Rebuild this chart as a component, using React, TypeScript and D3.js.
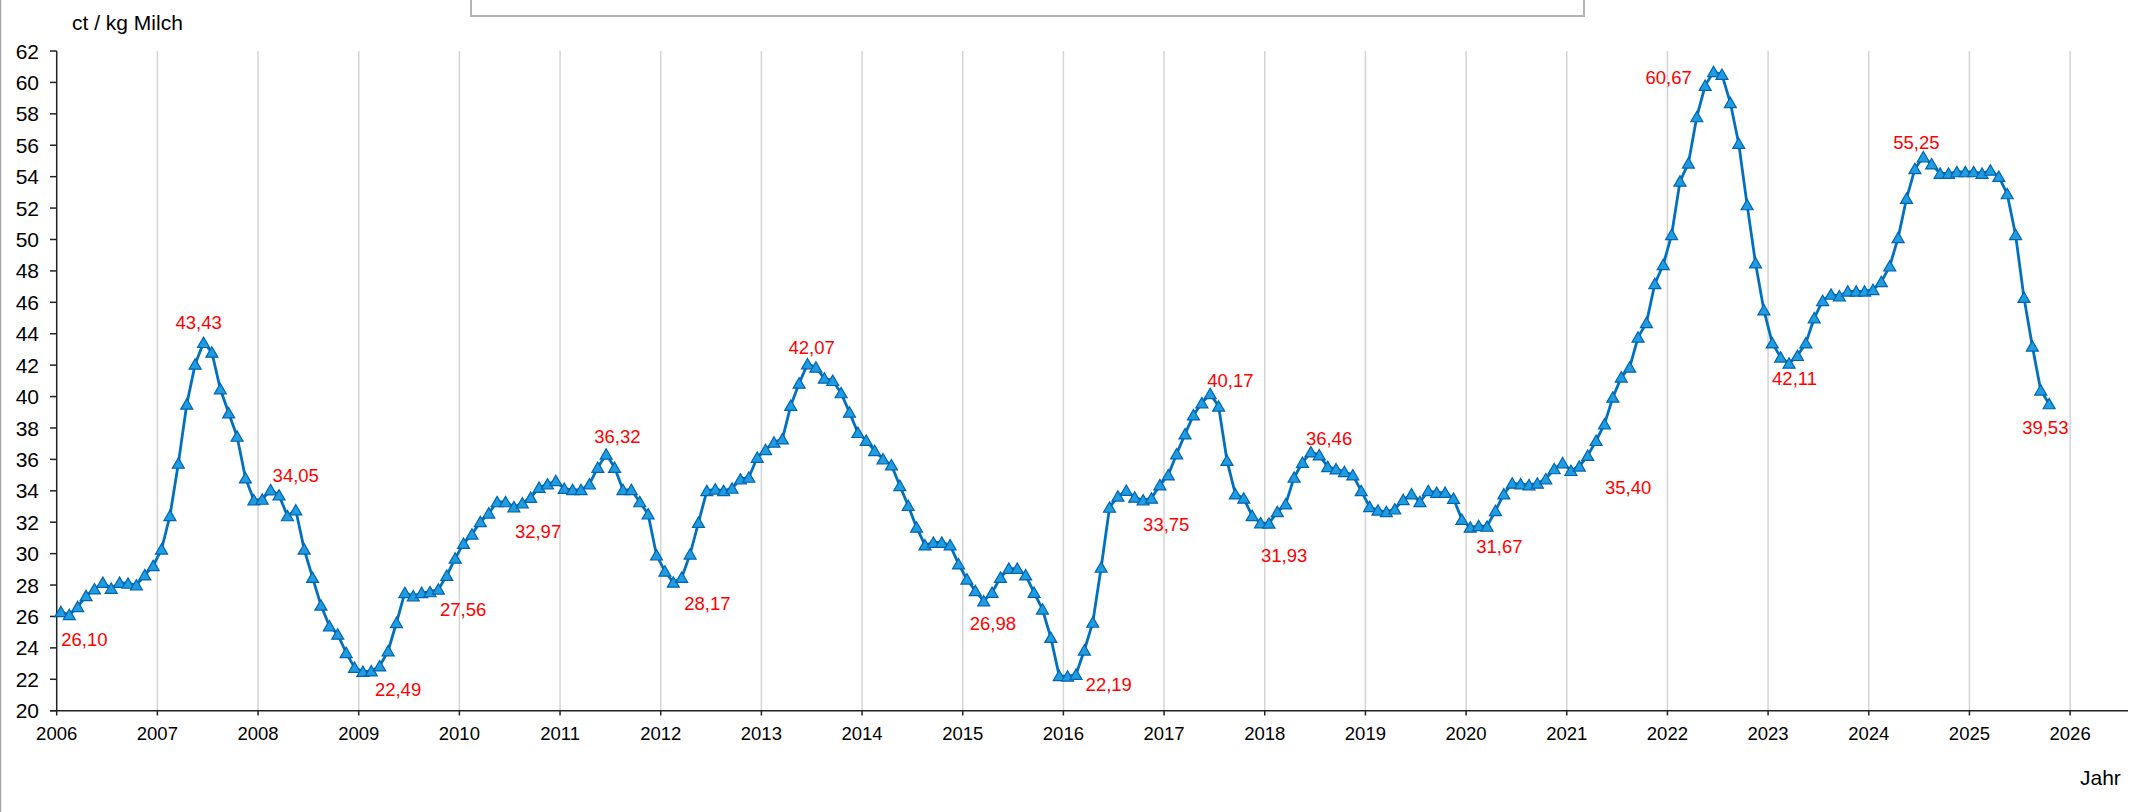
import React from "react";
import * as d3 from "d3";

// Monthly milk price, ct / kg Milch (Jan 2006 .. Oct 2025)
const y2006 = [26.29, 26.1, 26.61, 27.31, 27.74, 28.16, 27.78, 28.16, 28.1, 27.99, 28.63, 29.22];
const y2007 = [30.28, 32.41, 35.74, 39.5, 42.05, 43.43, 42.81, 40.48, 38.95, 37.46, 34.81, 33.41];
const y2008 = [33.45, 34.05, 33.72, 32.4, 32.77, 30.28, 28.47, 26.71, 25.39, 24.86, 23.69, 22.74];
const y2009 = [22.49, 22.52, 22.84, 23.8, 25.6, 27.51, 27.3, 27.51, 27.56, 27.73, 28.6, 29.7];
const y2010 = [30.64, 31.23, 32.02, 32.57, 33.29, 33.29, 32.97, 33.21, 33.57, 34.21, 34.42, 34.63];
const y2011 = [34.14, 34.06, 34.06, 34.42, 35.48, 36.32, 35.48, 34.06, 34.06, 33.29, 32.51, 29.9];
const y2012 = [28.87, 28.17, 28.47, 29.96, 31.98, 34.0, 34.1, 34.0, 34.15, 34.74, 34.85, 36.12];
const y2013 = [36.61, 37.08, 37.29, 39.42, 40.84, 42.07, 41.86, 41.16, 41.01, 40.23, 38.99, 37.7];
const y2014 = [37.2, 36.55, 36.02, 35.64, 34.32, 33.05, 31.67, 30.54, 30.71, 30.71, 30.54, 29.33];
const y2015 = [28.37, 27.63, 26.98, 27.52, 28.48, 29.05, 29.05, 28.63, 27.52, 26.46, 24.65, 22.22];
const y2016 = [22.19, 22.3, 23.85, 25.62, 29.12, 32.94, 33.65, 34.01, 33.58, 33.4, 33.52, 34.37];
const y2017 = [35.0, 36.34, 37.61, 38.82, 39.59, 40.17, 39.38, 35.92, 33.79, 33.52, 32.41, 31.95];
const y2018 = [31.93, 32.66, 33.15, 34.85, 35.8, 36.46, 36.27, 35.53, 35.38, 35.21, 35.0, 34.0];
const y2019 = [32.98, 32.76, 32.66, 32.83, 33.42, 33.79, 33.3, 34.0, 33.89, 33.89, 33.51, 32.17];
const y2020 = [31.67, 31.77, 31.73, 32.73, 33.79, 34.47, 34.43, 34.37, 34.47, 34.75, 35.39, 35.77];
const y2021 = [35.28, 35.56, 36.24, 37.19, 38.25, 39.95, 41.23, 41.86, 43.77, 44.69, 47.18, 48.39];
const y2022 = [50.3, 53.7, 54.85, 57.8, 59.8, 60.67, 60.5, 58.7, 56.1, 52.2, 48.5, 45.5];
const y2023 = [43.4, 42.5, 42.11, 42.6, 43.4, 45.0, 46.1, 46.5, 46.4, 46.7, 46.7, 46.7];
const y2024 = [46.8, 47.3, 48.3, 50.1, 52.6, 54.5, 55.25, 54.8, 54.2, 54.2, 54.3, 54.3];
const y2025 = [54.3, 54.2, 54.4, 54.0, 52.9, 50.3, 46.3, 43.2, 40.4, 39.53];

const START_YEAR = 2006;
const prices = [
  ...y2006, ...y2007, ...y2008, ...y2009, ...y2010, ...y2011, ...y2012,
  ...y2013, ...y2014, ...y2015, ...y2016, ...y2017, ...y2018, ...y2019,
  ...y2020, ...y2021, ...y2022, ...y2023, ...y2024, ...y2025,
];

const yearTicks = d3.range(2006, 2027);
const valueTicks = d3.range(20, 63, 2);

// annotated points: month index (from Jan 2006) and shown value
const labelIndex = [1, 17, 25, 36, 44, 54, 65, 73, 89, 110, 120, 129, 137, 144, 149, 168, 180, 197, 206, 222, 237];
const labelValue = [26.1, 43.43, 34.05, 22.49, 27.56, 32.97, 36.32, 28.17, 42.07, 26.98, 22.19, 33.75, 40.17, 31.93, 36.46, 31.67, 35.4, 60.67, 42.11, 55.25, 39.53];
// label placement (layout only): text start / baseline offset from the point
const labelOffset: [number, number][] = [
  [-8, 31], [-28, -14], [2, -8], [12, 24], [10, 24], [1, 31], [-12, -11],
  [11, 28], [-19, -10], [-14, 29], [18, 15], [0, 36], [-3, -7], [-8, 39],
  [-5, -7], [6, 26], [34, 25], [-68, 12], [-17, 22], [-30, -8], [-27, 30],
];

const W = 2154;
const H = 812;
const FONT = "'Liberation Sans', Arial, Helvetica, sans-serif";

export default function App() {
  const x = d3.scaleLinear().domain([2006, 2026]).range([56.7, 2070.1]);
  const y = d3.scaleLinear().domain([20, 62]).range([710.7, 51]);
  const px = (i: number) => x(START_YEAR + (i + 0.5) / 12);

  const line = d3
    .line<number>()
    .x((_, i) => px(i))
    .y((d) => y(d));

  const tri = "M0,-5.6L6,4.8L-6,4.8Z";
  const fmt = (v: number) => v.toFixed(2).replace(".", ",");

  return (
    <svg
      width={W}
      height={H}
      style={{ position: "absolute", left: 0, top: 0, background: "#fff" }}
      fontFamily={FONT}
    >
      <rect x={0} y={0} width={W} height={H} fill="#ffffff" />
      {/* left frame line */}
      <line x1={0.5} x2={0.5} y1={0} y2={H} stroke="#a6a6a6" strokeWidth={1.5} />
      {/* legend box cut at top */}
      <rect x={471} y={-12} width={1113} height={28} fill="#ffffff" stroke="#b4b4b4" strokeWidth={2} />

      {/* vertical grid lines */}
      {yearTicks.slice(1).map((t) => (
        <line key={"g" + t} x1={x(t)} x2={x(t)} y1={51} y2={710.7} stroke="#d4d4d4" strokeWidth={1.5} />
      ))}

      {/* y axis */}
      <line x1={56.7} x2={56.7} y1={51} y2={710.7} stroke="#222" strokeWidth={1.5} />
      {valueTicks.map((v) => (
        <g key={"y" + v}>
          <line x1={50} x2={56.7} y1={y(v)} y2={y(v)} stroke="#222" strokeWidth={1.5} />
          <text x={39} y={y(v)} dy="0.36em" textAnchor="end" fontSize={21} fill="#000">
            {v}
          </text>
        </g>
      ))}

      {/* x axis */}
      <line x1={50} x2={2128} y1={710.7} y2={710.7} stroke="#222" strokeWidth={1.5} />
      {yearTicks.map((t) => (
        <g key={"x" + t}>
          <line x1={x(t)} x2={x(t)} y1={710.7} y2={715.5} stroke="#222" strokeWidth={1.5} />
          <text x={x(t)} y={740} textAnchor="middle" fontSize={18.5} fill="#000">
            {t}
          </text>
        </g>
      ))}

      <text x={72} y={29.5} fontSize={21} fill="#000">ct / kg Milch</text>
      <text x={2080} y={785} fontSize={21} fill="#000">Jahr</text>

      {/* series */}
      <path d={line(prices) || ""} fill="none" stroke="#0070c0" strokeWidth={2.8} strokeLinejoin="round" />
      {prices.map((v, i) => (
        <path
          key={"m" + i}
          d={tri}
          transform={`translate(${px(i)},${y(v)})`}
          fill="#1f9de0"
          stroke="#0064b0"
          strokeWidth={1.2}
        />
      ))}

      {/* data labels */}
      {labelIndex.map((idx, k) => (
        <text
          key={"l" + k}
          x={px(idx) + labelOffset[k][0]}
          y={y(labelValue[k]) + labelOffset[k][1]}
          fontSize={18.5}
          fill="#ff0000"
        >
          {fmt(labelValue[k])}
        </text>
      ))}
    </svg>
  );
}
